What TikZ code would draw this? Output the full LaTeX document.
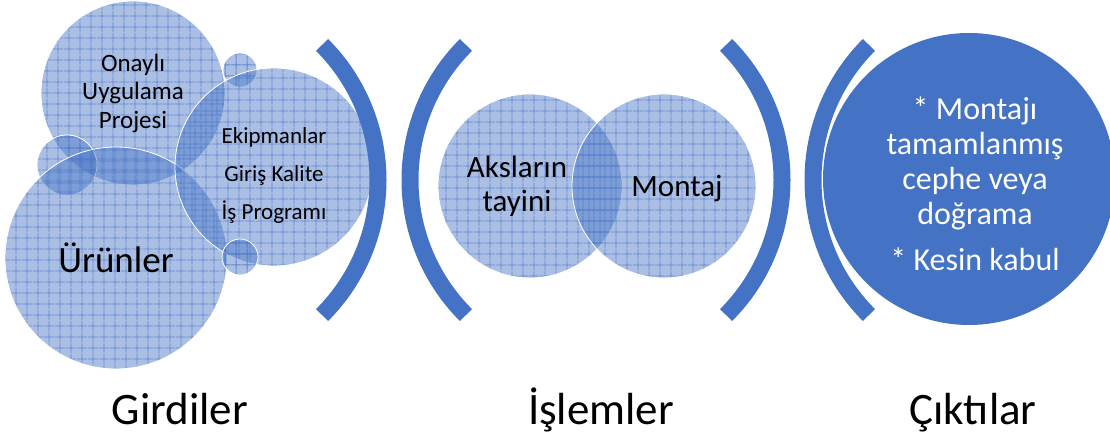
\documentclass[tikz,border=0pt]{standalone}
\usepackage{fontspec}
\setmainfont{Carlito}
\usepackage{tikz}
\usetikzlibrary{shapes, arrows, positioning, patterns.meta}
\definecolor{mainblue}{HTML}{4472C4}
\tikzdeclarepattern{
  name=cellgrid, type=uncolored,
  bottom left={(0pt,0pt)}, top right={(10.5pt,10.5pt)}, tile size={(10.5pt,10.5pt)},
  code={\pgfsetlinewidth{0.8pt}
    \pgfpathmoveto{\pgfqpoint{5.25pt}{0pt}}\pgfpathlineto{\pgfqpoint{5.25pt}{10.5pt}}
    \pgfpathmoveto{\pgfqpoint{0pt}{5.25pt}}\pgfpathlineto{\pgfqpoint{10.5pt}{5.25pt}}
    \pgfusepath{stroke}}
}
\tikzstyle{bubble} = [circle, inner sep=0pt, draw=white, line width=0.8pt, preaction={fill=mainblue, fill opacity=0.45}, pattern=cellgrid, pattern color=mainblue, fill opacity=0.75, text opacity=1, align=center, text=black]
\tikzstyle{result} = [circle, inner sep=0pt, fill=mainblue]
\tikzstyle{bracket} = [mainblue, line width=17pt]
\tikzstyle{caption} = [anchor=base, font=\fontsize{45}{54}\selectfont]

\begin{document}
\begin{tikzpicture}[x=1pt, y=1pt]
	\useasboundingbox (0,0) rectangle (1110,438);
	% girdiler
	\node (onayli) [bubble, minimum size=184pt, font=\fontsize{25}{28.5}\selectfont] at (133,345) {Onaylı\\Uygulama\\Projesi};
	\node (dotTop) [bubble, minimum size=34pt] at (240,368) {};
	\node (dotLeft) [bubble, minimum size=60pt] at (67,273) {};
	\node (urunler) [bubble, minimum size=222pt, font=\fontsize{37}{44}\selectfont] at (116,180) {Ürünler};
	\node (ekipman) [bubble, minimum size=198pt] at (274,271) {};
	\node (dotBottom) [bubble, minimum size=36pt] at (240,181) {};
	\node (ekipmanText) [align=center, font=\fontsize{23}{27}\selectfont] at ([yshift=-8pt]ekipman.center) {Ekipmanlar\\[11pt]Giriş Kalite\\[11pt]İş Programı};
	% islemler
	\node (aks) [bubble, minimum size=184pt] at (530,252) {};
	\node (montaj) [bubble, minimum size=184pt] at (664,252) {};
	\node (aksText) [align=center, font=\fontsize{31}{34}\selectfont] at ([xshift=-13pt]aks.center) {Aksların\\tayini};
	\node (montajText) [font=\fontsize{31}{34}\selectfont] at ([xshift=13pt,yshift=-2pt]montaj.center) {Montaj};
	% ciktilar
	\node (sonuc) [result, minimum size=292pt] at (969,259) {};
	\node (sonucText) [text=white, align=center, font=\fontsize{32}{35}\selectfont] at ([xshift=6pt,yshift=-5pt]sonuc.center) {* Montajı\\tamamlanmış\\cephe veya\\doğrama\\[11pt]* Kesin kabul};
	% parantezler
	\coordinate (p1) at (187,258);
	\coordinate (p2) at (601,258);
	\coordinate (p3) at (591,258);
	\coordinate (p4) at (1004,258);
	\draw [bracket] ([shift={(-45:191)}]p1) arc [start angle=-45, end angle=45, radius=191];
	\draw [bracket] ([shift={(135:191)}]p2) arc [start angle=135, end angle=225, radius=191];
	\draw [bracket] ([shift={(-45:191)}]p3) arc [start angle=-45, end angle=45, radius=191];
	\draw [bracket] ([shift={(135:191)}]p4) arc [start angle=135, end angle=225, radius=191];
	% basliklar
	\node (girdi) [caption] at (180,13) {Girdiler};
	\node (islem) [caption] at (601,13) {İşlemler};
	\node (cikti) [caption] at (973,13) {Çıktılar};
\end{tikzpicture}
\end{document}
